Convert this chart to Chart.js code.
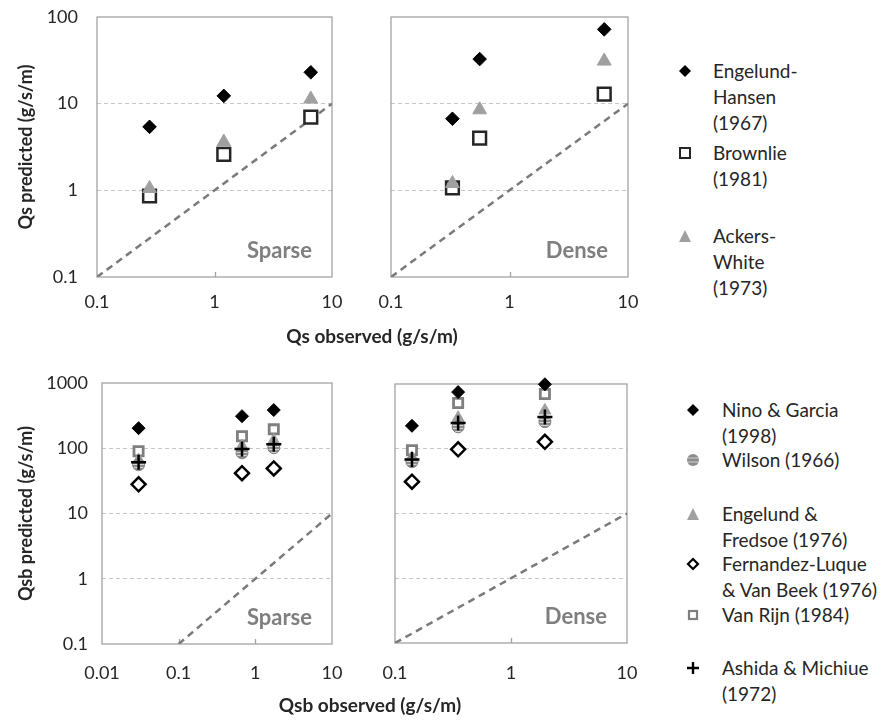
<!DOCTYPE html>
<html>
<head>
<meta charset="utf-8">
<script src="https://cdn.jsdelivr.net/npm/chart.js@4.4.1/dist/chart.umd.min.js"></script>
<style>
  body { margin: 0; background: #fff; font-family: Lato, sans-serif; color: #262626; }
  #page { position: relative; width: 885px; height: 720px; overflow: hidden; }
  .panel { position: absolute; }
  .axis-title { position: absolute; font-weight: bold; font-size: 19px; transform: translateX(-50%); white-space: nowrap; }
  .key { position: absolute; font-size: 19px; line-height: 26px; white-space: nowrap; }
  .key svg { position: absolute; top: 6px; }
</style>
</head>
<body>
<div id="page">
  <canvas class="panel" id="qsSparse" width="345" height="330" style="left:0;top:0"></canvas>
  <canvas class="panel" id="qsDense" width="270" height="330" style="left:370px;top:0"></canvas>
  <canvas class="panel" id="qsbSparse" width="345" height="340" style="left:0;top:360px"></canvas>
  <canvas class="panel" id="qsbDense" width="270" height="340" style="left:370px;top:360px"></canvas>

  <div class="axis-title" style="left:372px;top:324px">Qs observed (g/s/m)</div>
  <div class="axis-title" style="left:370px;top:693px">Qsb observed (g/s/m)</div>

  <!-- top legend -->
  <div class="key" style="left:713px;top:58px">
    <svg width="14" height="14" style="left:-35px"><path d="M7 1 L13 7 L7 13 L1 7 Z" fill="#000"/></svg>
    Engelund-<br>Hansen<br>(1967)</div>
  <div class="key" style="left:713px;top:140px">
    <svg width="14" height="14" style="left:-35px"><rect x="2" y="2" width="10" height="10" fill="#fff" stroke="#262626" stroke-width="2"/></svg>
    Brownlie<br>(1981)</div>
  <div class="key" style="left:713px;top:223px">
    <svg width="14" height="14" style="left:-35px"><path d="M7 1 L13 13 L1 13 Z" fill="#a0a0a0"/></svg>
    Ackers-<br>White<br>(1973)</div>

  <!-- bottom legend -->
  <div class="key" style="left:722px;top:397px">
    <svg width="14" height="14" style="left:-36px"><path d="M7 1 L13 7 L7 13 L1 7 Z" fill="#000"/></svg>
    Nino &amp; Garcia<br>(1998)</div>
  <div class="key" style="left:722px;top:447px">
    <svg width="14" height="14" style="left:-36px"><circle cx="7" cy="7" r="6" fill="#8c8c8c"/><path d="M1 5 H13 M1 9 H13" stroke="#d0d0d0" stroke-width="1"/></svg>
    Wilson (1966)</div>
  <div class="key" style="left:722px;top:501px">
    <svg width="14" height="14" style="left:-36px"><path d="M7 1 L13 13 L1 13 Z" fill="#a0a0a0"/></svg>
    Engelund &amp;<br>Fredsoe (1976)</div>
  <div class="key" style="left:722px;top:551px">
    <svg width="14" height="14" style="left:-36px"><path d="M7 2 L12 7 L7 12 L2 7 Z" fill="#fff" stroke="#000" stroke-width="2.2"/></svg>
    Fernandez-Luque<br>&amp; Van Beek (1976)</div>
  <div class="key" style="left:722px;top:602px">
    <svg width="14" height="14" style="left:-36px"><rect x="3" y="3" width="8" height="8" fill="#fff" stroke="#7f7f7f" stroke-width="2.2"/></svg>
    Van Rijn (1984)</div>
  <div class="key" style="left:722px;top:655px">
    <svg width="14" height="14" style="left:-36px"><path d="M7 1 V13 M1 7 H13" stroke="#000" stroke-width="2.4"/></svg>
    Ashida &amp; Michiue<br>(1972)</div>
</div>

<script>
/* DATA */
/* total load, sparse */
const qsSparseObs = [0.28, 1.2, 6.6];
const qsSparseEngelundHansen = [5.4, 12.3, 23];
const qsSparseBrownlie = [0.86, 2.6, 7.0];
const qsSparseAckersWhite = [1.05, 3.6, 11.3];
/* total load, dense */
const qsDenseObs = [0.33, 0.56, 6.3];
const qsDenseEngelundHansen = [6.7, 32.7, 72];
const qsDenseBrownlie = [1.07, 4.0, 12.9];
const qsDenseAckersWhite = [1.2, 8.5, 31];

/* bed load, sparse */
const qsbSparseObs = [0.03, 0.67, 1.74];
const qsbSparseNino = [203, 310, 385];
const qsbSparseWilson = [56, 85, 102];
const qsbSparseEngelundFredsoe = [66, 108, 132];
const qsbSparseFernandez = [28, 41.5, 49];
const qsbSparseVanRijn = [90, 153, 195];
const qsbSparseAshida = [61, 97, 115];
/* bed load, dense */
const qsbDenseObs = [0.14, 0.35, 1.96];
const qsbDenseNino = [226, 750, 990];
const qsbDenseWilson = [63, 218, 262];
const qsbDenseEngelundFredsoe = [72, 300, 390];
const qsbDenseFernandez = [31, 98, 128];
const qsbDenseVanRijn = [95, 510, 700];
const qsbDenseAshida = [68, 250, 310];

/* tick labels and 1:1 line */
const qsTicksX = [0.1, 1, 10];
const qsTicksY = [0.1, 1, 10, 100];
const qsbSparseTicksX = [0.01, 0.1, 1, 10];
const qsbDenseTicksX = [0.1, 1, 10];
const qsbTicksY = [0.1, 1, 10, 100, 1000];
const oneToOne = [0.1, 10];

const ink = '#262626';
Chart.defaults.font.family = 'Lato';

/* grey circle with light stripes for Wilson */
function stripes() {
  const c = document.createElement('canvas');
  c.width = 4; c.height = 3;
  const g = c.getContext('2d');
  g.fillStyle = '#8c8c8c'; g.fillRect(0, 0, 4, 3);
  g.fillStyle = '#d4d4d4'; g.fillRect(0, 2, 4, 1);
  return g.createPattern(c, 'repeat');
}

/* marker styles */
const big = {
  diamond: { pointStyle: 'rectRot', pointRadius: 6.8, pointBackgroundColor: '#000', pointBorderColor: '#000', pointBorderWidth: 1 },
  square: { pointStyle: 'rect', pointRadius: 9, pointBackgroundColor: '#fff', pointBorderColor: ink, pointBorderWidth: 2.5 },
  triangle: { pointStyle: 'triangle', pointRadius: 8, pointBackgroundColor: '#a0a0a0', pointBorderColor: '#a0a0a0', pointBorderWidth: 1 }
};
const small = {
  diamond: { pointStyle: 'rectRot', pointRadius: 6.5, pointBackgroundColor: '#000', pointBorderColor: '#000', pointBorderWidth: 1 },
  circle: { pointStyle: 'circle', pointRadius: 6, pointBackgroundColor: stripes(), pointBorderColor: '#808080', pointBorderWidth: 1 },
  triangle: { pointStyle: 'triangle', pointRadius: 7, pointBackgroundColor: '#a0a0a0', pointBorderColor: '#a0a0a0', pointBorderWidth: 1 },
  openDiamond: { pointStyle: 'rectRot', pointRadius: 7, pointBackgroundColor: '#fff', pointBorderColor: '#000', pointBorderWidth: 2.5 },
  openSquare: { pointStyle: 'rect', pointRadius: 6.5, pointBackgroundColor: '#fff', pointBorderColor: '#7f7f7f', pointBorderWidth: 2.8 },
  plus: { pointStyle: 'cross', pointRadius: 7.5, pointBorderColor: '#000', pointBorderWidth: 2.5 }
};

function pts(xs, ys) {
  return xs.map(function(x, i) { return { x: x, y: ys[i] }; });
}

function series(label, xs, ys, style, order) {
  return Object.assign({ label: label, data: pts(xs, ys), clip: false, order: order }, style);
}

function diagonal() {
  return {
    label: '1:1', data: pts(oneToOne, oneToOne), showLine: true, order: 20,
    borderColor: '#7a7a7a', borderWidth: 2.5, borderDash: [7, 5], pointRadius: 0, fill: false
  };
}

/* box round the plot, little inner ticks, and the Sparse / Dense tag */
const panelFrame = {
  id: 'panelFrame',
  beforeDatasetsDraw(chart, args, opts) {
    const ctx = chart.ctx, a = chart.chartArea, x = chart.scales.x;
    ctx.save();
    ctx.strokeStyle = '#a3a3a3';
    ctx.lineWidth = 1.3;
    ctx.strokeRect(a.left, a.top, a.right - a.left, a.bottom - a.top);
    x.ticks.forEach(function(t) {
      if (t.value > x.min && t.value < x.max) {
        const px = Math.round(x.getPixelForValue(t.value)) + 0.5;
        ctx.beginPath();
        ctx.moveTo(px, a.bottom);
        ctx.lineTo(px, a.bottom - 5);
        ctx.stroke();
      }
    });
    ctx.font = 'bold 22px Lato';
    ctx.fillStyle = '#7f7f7f';
    ctx.textAlign = 'right';
    ctx.textBaseline = 'alphabetic';
    ctx.fillText(opts.text, a.right - 20, a.bottom - 19);
    ctx.restore();
  }
};

/* fixed axis sizes, no extra room for overhanging labels */
function fixSize(prop, size) {
  return function(s) {
    s[prop] = size;
    s.paddingLeft = 0; s.paddingRight = 0;
    s.paddingTop = 0; s.paddingBottom = 0;
  };
}

function makePanel(id, o) {
  const yMin = o.yTicks[0], yMax = o.yTicks[o.yTicks.length - 1];
  return new Chart(document.getElementById(id), {
    type: 'scatter',
    data: { datasets: o.datasets },
    options: {
      responsive: false,
      animation: false,
      events: [],
      layout: { padding: { top: o.top, right: o.right, left: 0, bottom: 0 } },
      scales: {
        x: {
          type: 'logarithmic',
          min: o.xTicks[0],
          max: o.xTicks[o.xTicks.length - 1],
          afterBuildTicks: function(s) { s.ticks = o.xTicks.map(function(v) { return { value: v }; }); },
          afterFit: fixSize('height', o.xHeight),
          grid: { display: false, drawTicks: false },
          border: { display: false },
          ticks: {
            padding: o.xPad, maxRotation: 0, autoSkip: false, color: ink,
            font: { size: 18 },
            callback: function(v) { return String(v); }
          }
        },
        y: {
          type: 'logarithmic',
          min: yMin,
          max: yMax,
          afterBuildTicks: function(s) { s.ticks = o.yTicks.map(function(v) { return { value: v }; }); },
          afterFit: fixSize('width', o.yWidth),
          grid: {
            drawTicks: false,
            lineWidth: 1,
            color: function(c) {
              const v = c.tick && c.tick.value;
              return (v > yMin && v < yMax) ? '#c6c6c6' : 'rgba(0,0,0,0)';
            }
          },
          border: { display: false, dash: [4, 3] },
          ticks: {
            display: o.yLabels, padding: o.yPad, autoSkip: false, color: ink,
            font: { size: 18 },
            callback: function(v) { return String(v); }
          },
          title: {
            display: !!o.yTitle, text: o.yTitle || '', color: ink,
            font: { size: 18, weight: 'bold' },
            padding: { top: 15, bottom: 0 }
          }
        }
      },
      plugins: {
        legend: { display: false },
        tooltip: { enabled: false },
        panelFrame: { text: o.tag }
      }
    },
    plugins: [panelFrame]
  });
}

/* TOP ROW */
makePanel('qsSparse', {
  tag: 'Sparse', yTitle: 'Qs predicted (g/s/m)', yLabels: true,
  xTicks: qsTicksX, yTicks: qsTicksY,
  top: 17, right: 13, yWidth: 97, xHeight: 53, xPad: 14, yPad: 19,
  datasets: [
    series('Engelund-Hansen (1967)', qsSparseObs, qsSparseEngelundHansen, big.diamond, 1),
    series('Brownlie (1981)', qsSparseObs, qsSparseBrownlie, big.square, 3),
    series('Ackers-White (1973)', qsSparseObs, qsSparseAckersWhite, big.triangle, 2),
    diagonal()
  ]
});

makePanel('qsDense', {
  tag: 'Dense', yLabels: false,
  xTicks: qsTicksX, yTicks: qsTicksY,
  top: 17, right: 12, yWidth: 21, xHeight: 53, xPad: 14, yPad: 0,
  datasets: [
    series('Engelund-Hansen (1967)', qsDenseObs, qsDenseEngelundHansen, big.diamond, 1),
    series('Brownlie (1981)', qsDenseObs, qsDenseBrownlie, big.square, 3),
    series('Ackers-White (1973)', qsDenseObs, qsDenseAckersWhite, big.triangle, 2),
    diagonal()
  ]
});

/* BOTTOM ROW */
makePanel('qsbSparse', {
  tag: 'Sparse', yTitle: 'Qsb predicted (g/s/m)', yLabels: true,
  xTicks: qsbSparseTicksX, yTicks: qsbTicksY,
  top: 23, right: 13, yWidth: 102, xHeight: 56, xPad: 18, yPad: 14,
  datasets: [
    series('Nino & Garcia (1998)', qsbSparseObs, qsbSparseNino, small.diamond, 1),
    series('Wilson (1966)', qsbSparseObs, qsbSparseWilson, small.circle, 4),
    series('Engelund & Fredsoe (1976)', qsbSparseObs, qsbSparseEngelundFredsoe, small.triangle, 5),
    series('Fernandez-Luque & Van Beek (1976)', qsbSparseObs, qsbSparseFernandez, small.openDiamond, 2),
    series('Van Rijn (1984)', qsbSparseObs, qsbSparseVanRijn, small.openSquare, 6),
    series('Ashida & Michiue (1972)', qsbSparseObs, qsbSparseAshida, small.plus, 3),
    diagonal()
  ]
});

makePanel('qsbDense', {
  tag: 'Dense', yLabels: false,
  xTicks: qsbDenseTicksX, yTicks: qsbTicksY,
  top: 24, right: 13, yWidth: 25, xHeight: 57, xPad: 19, yPad: 0,
  datasets: [
    series('Nino & Garcia (1998)', qsbDenseObs, qsbDenseNino, small.diamond, 1),
    series('Wilson (1966)', qsbDenseObs, qsbDenseWilson, small.circle, 4),
    series('Engelund & Fredsoe (1976)', qsbDenseObs, qsbDenseEngelundFredsoe, small.triangle, 5),
    series('Fernandez-Luque & Van Beek (1976)', qsbDenseObs, qsbDenseFernandez, small.openDiamond, 2),
    series('Van Rijn (1984)', qsbDenseObs, qsbDenseVanRijn, small.openSquare, 6),
    series('Ashida & Michiue (1972)', qsbDenseObs, qsbDenseAshida, small.plus, 3),
    diagonal()
  ]
});
</script>
</body>
</html>
